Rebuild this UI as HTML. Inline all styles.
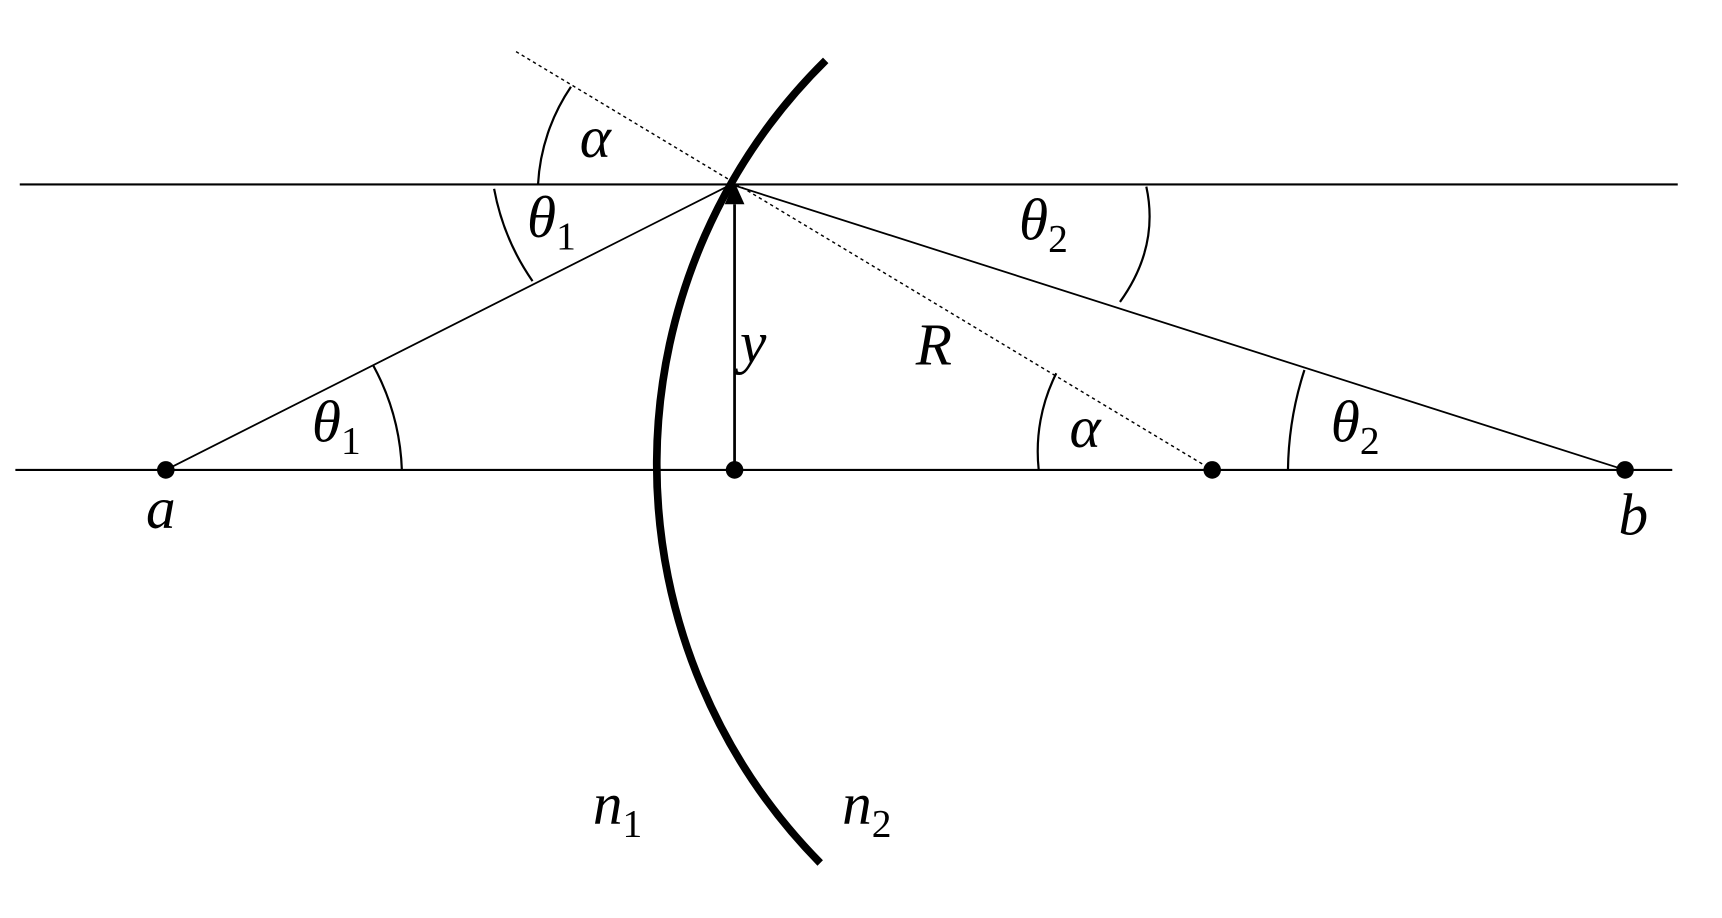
<!DOCTYPE html>
<html><head><meta charset="utf-8"><style>
html,body{margin:0;padding:0;background:#fff;}
svg{display:block;}
text{font-family:"Liberation Serif","Times New Roman",serif;font-style:italic;fill:#000;}
</style></head><body>
<svg width="1722" height="918" viewBox="0 0 1568.3 836.1" preserveAspectRatio="none" xmlns="http://www.w3.org/2000/svg">
<g stroke="#000" fill="none">
<line x1="18" y1="168" x2="1528" y2="168" stroke-width="2"/>
<line x1="14" y1="428" x2="1523" y2="428" stroke-width="2"/>
<line x1="151" y1="428" x2="666" y2="168" stroke-width="1.6"/>
<line x1="666" y1="168" x2="1480" y2="428" stroke-width="1.6"/>
<line x1="470" y1="47" x2="1104" y2="428" stroke-width="1.3" stroke-dasharray="3,3"/>
<path d="M752 55 A517 517 0 0 0 747 786" stroke-width="7"/>
<line x1="669" y1="428" x2="669" y2="186" stroke-width="2.5"/>
<path d="M490 168 A175 175 0 0 1 520 79" stroke-width="2"/>
<path d="M450 172 A216 216 0 0 0 485 256" stroke-width="2"/>
<path d="M366 428 A215 215 0 0 0 340 333" stroke-width="2"/>
<path d="M1044 170 Q1056 225 1020 275" stroke-width="2"/>
<path d="M946 428 A158 158 0 0 1 962 340" stroke-width="2"/>
<path d="M1173 428 A307 307 0 0 1 1188 337" stroke-width="2"/>
</g>
<polygon points="669,166 660,186 678,186" fill="#000"/>
<g fill="#000">
<circle cx="151" cy="428" r="8"/>
<circle cx="669" cy="428" r="8"/>
<circle cx="1104" cy="428" r="8"/>
<circle cx="1480" cy="428" r="8"/>
</g>
<g font-size="54" font-family="Liberation Serif, serif">
<text x="528" y="143">α</text>
<text x="480" y="216">θ<tspan font-style="normal" font-size="36" dy="11">1</tspan></text>
<text x="928" y="218">θ<tspan font-style="normal" font-size="36" dy="11">2</tspan></text>
<text x="674" y="330">y</text>
<text x="834" y="332">R</text>
<text x="284" y="402">θ<tspan font-style="normal" font-size="36" dy="11">1</tspan></text>
<text x="974" y="407">α</text>
<text x="1212" y="402">θ<tspan font-style="normal" font-size="36" dy="11">2</tspan></text>
<text x="133" y="481">a</text>
<text x="1474" y="487">b</text>
<text x="540" y="750">n<tspan font-style="normal" font-size="36" dy="12">1</tspan></text>
<text x="767" y="750">n<tspan font-style="normal" font-size="36" dy="12">2</tspan></text>
</g>
</svg>
</body></html>
